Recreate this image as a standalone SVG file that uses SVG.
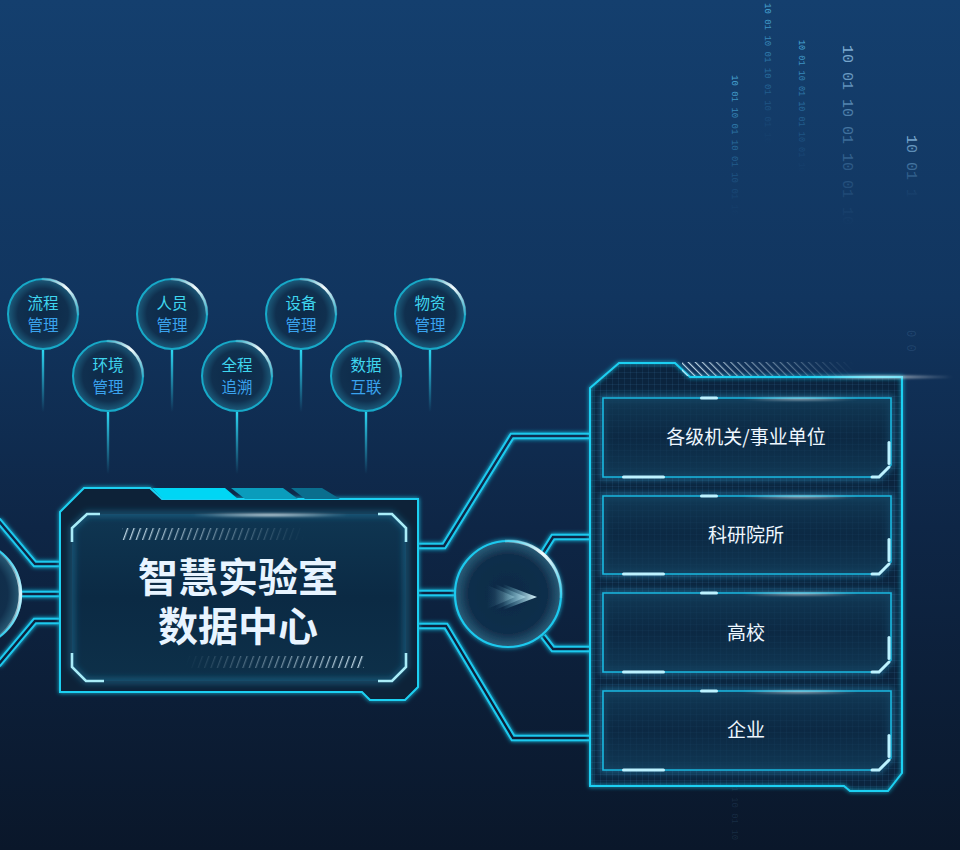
<svg xmlns="http://www.w3.org/2000/svg" width="960" height="850" viewBox="0 0 960 850">
<defs>
<style>
.cjk{font-family:"Noto Sans CJK SC","Noto Sans",sans-serif}
.ball{fill:url(#ballFill);stroke:#17a9c8;stroke-width:2}
.hl{fill:none;stroke:url(#arcG);stroke-width:3;stroke-linecap:round}
.t1{fill:#3fd6ef;font-size:15.5px;text-anchor:middle}
.t2{fill:#3aa3ee;font-size:15.5px;text-anchor:middle}
.stem{fill:url(#stemG)}
.wo{fill:none;stroke:#1dc9ee;stroke-width:6.4;stroke-linejoin:miter}
.wi{fill:none;stroke:url(#bg);stroke-width:2.4;stroke-linejoin:miter}
.card{fill:url(#cardFill);stroke:#1ab8e0;stroke-width:1.6}
.cardglow{fill:none;stroke:#2aa8d8;stroke-opacity:.45;stroke-width:6}
.bar{fill:#bdf2ff}
.ctext{fill:#eef7ff;font-size:19px;text-anchor:middle}
.bin{font-family:"Liberation Mono","DejaVu Sans Mono",monospace}
.brk{fill:none;stroke:#a9ecf8;stroke-width:2.6}
</style>
<linearGradient id="bg" gradientUnits="userSpaceOnUse" x1="0" y1="0" x2="0" y2="850">
<stop offset="0" stop-color="#143f6e"/>
<stop offset="0.35" stop-color="#11355f"/>
<stop offset="0.62" stop-color="#0e2646"/>
<stop offset="1" stop-color="#0a172a"/>
</linearGradient>
<filter id="glow" x="-10%" y="-10%" width="120%" height="120%"><feGaussianBlur stdDeviation="2.2" result="b"/><feMerge><feMergeNode in="b"/><feMergeNode in="SourceGraphic"/></feMerge></filter>
<filter id="soft" x="-20%" y="-50%" width="140%" height="200%"><feGaussianBlur stdDeviation="3"/></filter>
<filter id="soft1" x="-20%" y="-50%" width="140%" height="200%"><feGaussianBlur stdDeviation="1.2"/></filter>
<radialGradient id="ballFill" cx="0.5" cy="0.5" r="0.5">
<stop offset="0" stop-color="#0d2a48"/>
<stop offset="0.72" stop-color="#10304f"/>
<stop offset="1" stop-color="#1c5c7c"/>
</radialGradient>
<radialGradient id="bigFill" cx="0.5" cy="0.5" r="0.5">
<stop offset="0" stop-color="#0f2a44"/>
<stop offset="0.75" stop-color="#112f4c"/>
<stop offset="1" stop-color="#2a5f7a"/>
</radialGradient>
<linearGradient id="arcG" x1="0" y1="0" x2="1" y2="1">
<stop offset="0" stop-color="#ffffff" stop-opacity="0.15"/>
<stop offset="0.45" stop-color="#ffffff" stop-opacity="0.95"/>
<stop offset="1" stop-color="#ffffff" stop-opacity="0.1"/>
</linearGradient>
<linearGradient id="arcV" x1="0" y1="0" x2="0" y2="1">
<stop offset="0" stop-color="#ffffff" stop-opacity="0"/>
<stop offset="0.5" stop-color="#e8faff" stop-opacity="0.9"/>
<stop offset="1" stop-color="#ffffff" stop-opacity="0"/>
</linearGradient>
<linearGradient id="stemG" x1="0" y1="0" x2="0" y2="1">
<stop offset="0" stop-color="#2cd6f2" stop-opacity="1"/>
<stop offset="1" stop-color="#2cd6f2" stop-opacity="0"/>
</linearGradient>
<linearGradient id="innerFill" x1="0" y1="0" x2="0" y2="1">
<stop offset="0" stop-color="#0f3652"/>
<stop offset="0.5" stop-color="#0b2a44"/>
<stop offset="1" stop-color="#0d3049"/>
</linearGradient>
<linearGradient id="cardFill" x1="0" y1="0" x2="0" y2="1">
<stop offset="0" stop-color="#123d5a" stop-opacity="0.85"/>
<stop offset="0.5" stop-color="#0c2c47" stop-opacity="0.6"/>
<stop offset="1" stop-color="#123d5a" stop-opacity="0.85"/>
</linearGradient>
<linearGradient id="arrowG" x1="0" y1="0" x2="1" y2="0">
<stop offset="0" stop-color="#6fd2ea" stop-opacity="0"/>
<stop offset="1" stop-color="#e2f9ff" stop-opacity="1"/>
</linearGradient>
<linearGradient id="binFade" x1="0" y1="0" x2="1" y2="0">
<stop offset="0" stop-color="#8ab8dc" stop-opacity="0.95"/>
<stop offset="0.55" stop-color="#6aa4d0" stop-opacity="0.45"/>
<stop offset="1" stop-color="#5a94c4" stop-opacity="0"/>
</linearGradient>
<linearGradient id="binFadeC" x1="0" y1="0" x2="1" y2="0">
<stop offset="0" stop-color="#4fb4e0" stop-opacity="0.95"/>
<stop offset="0.55" stop-color="#3a98cc" stop-opacity="0.45"/>
<stop offset="1" stop-color="#3a88c0" stop-opacity="0"/>
</linearGradient>
<radialGradient id="whiteGlow" cx="0.5" cy="0.5" r="0.5">
<stop offset="0" stop-color="#ffffff" stop-opacity="0.85"/>
<stop offset="1" stop-color="#ffffff" stop-opacity="0"/>
</radialGradient>
<pattern id="grid" width="6" height="6" patternUnits="userSpaceOnUse">
<path d="M6,0 L0,0 L0,6" fill="none" stroke="#4a8cc4" stroke-opacity="0.22" stroke-width="1"/>
</pattern>
<pattern id="fwd" width="6" height="20" patternUnits="userSpaceOnUse" patternTransform="rotate(20)">
<rect width="1.3" height="20" fill="#d8eefa"/>
</pattern>
<pattern id="back" width="5" height="20" patternUnits="userSpaceOnUse" patternTransform="rotate(-45)">
<rect width="1.2" height="20" fill="#d8eefa"/>
</pattern>
<linearGradient id="fadeR" x1="0" y1="0" x2="1" y2="0">
<stop offset="0" stop-color="#fff" stop-opacity="0.9"/>
<stop offset="1" stop-color="#fff" stop-opacity="0"/>
</linearGradient>
<linearGradient id="fadeL" x1="0" y1="0" x2="1" y2="0">
<stop offset="0" stop-color="#fff" stop-opacity="0"/>
<stop offset="1" stop-color="#fff" stop-opacity="0.9"/>
</linearGradient>
<mask id="mHatchTop"><rect x="120" y="526" width="185" height="16" fill="url(#fadeR)"/></mask>
<mask id="mHatchBot"><rect x="185" y="654" width="180" height="16" fill="url(#fadeL)"/></mask>
<mask id="mHatchPanel"><rect x="680" y="361" width="175" height="16" fill="url(#fadeR)"/></mask>
<path id="w1" d="M-2,520 L35,564 L60,564"/>
<path id="w2" d="M18,594 L60,594"/>
<path id="w3" d="M60,621 L35,621 L-2,665"/>
<path id="w4" d="M418,546 L444,546 L512,436 L590,436"/>
<path id="w5" d="M418,593 L456,593"/>
<path id="w6" d="M418,626 L446,626 L513,738 L590,738"/>
<path id="w7" d="M543,553 L553,537 L590,537"/>
<path id="w8" d="M543,636 L553,649 L590,649"/>
</defs>

<rect width="960" height="850" fill="url(#bg)"/>

<g id="binary" class="bin">
<text transform="translate(843,45) rotate(90)" font-size="15" fill="url(#binFade)">10 01 10 01 10 01 10</text>
<text transform="translate(907,135) rotate(90)" font-size="15" fill="url(#binFade)">10 01 1</text>
<text transform="translate(732,75) rotate(90)" font-size="9" fill="url(#binFadeC)">10 01 10 01 10 01 10 01 10</text>
<text transform="translate(765,3) rotate(90)" font-size="9" fill="url(#binFadeC)">10 01 10 01 10 01 10 01 10</text>
<text transform="translate(799,40) rotate(90)" font-size="8.5" fill="url(#binFadeC)">10 01 10 01 10 01 10 01 10</text>
<text transform="translate(907,330) rotate(90)" font-size="12" fill="#6a9cc8" fill-opacity="0.18">0 0</text>
<text transform="translate(732,770) rotate(90)" font-size="9" fill="#6a9cc8" fill-opacity="0.15">0 01 10 01 10</text>
</g>

<g id="connectors">
<g filter="url(#glow)">
<use href="#w1" class="wo"/><use href="#w2" class="wo"/><use href="#w3" class="wo"/>
<use href="#w4" class="wo"/><use href="#w5" class="wo"/><use href="#w6" class="wo"/>
<use href="#w7" class="wo"/><use href="#w8" class="wo"/>
</g>
<use href="#w1" class="wi"/><use href="#w2" class="wi"/><use href="#w3" class="wi"/>
<use href="#w4" class="wi"/><use href="#w5" class="wi"/><use href="#w6" class="wi"/>
<use href="#w7" class="wi"/><use href="#w8" class="wi"/>
<g id="stems">
<rect class="stem" x="41.8" y="350" width="2.4" height="62"/>
<rect class="stem" x="170.8" y="350" width="2.4" height="62"/>
<rect class="stem" x="299.8" y="350" width="2.4" height="62"/>
<rect class="stem" x="428.8" y="350" width="2.4" height="62"/>
<rect class="stem" x="106.8" y="412" width="2.4" height="62"/>
<rect class="stem" x="235.8" y="412" width="2.4" height="62"/>
<rect class="stem" x="364.8" y="412" width="2.4" height="62"/>
</g>
</g>

<g id="node-liucheng" class="cjk">
<circle class="ball" cx="43" cy="314" r="35"/><path class="hl" d="M43,279 A35,35 0 0 1 78,314"/>
<text class="t1" x="43" y="309">流程</text><text class="t2" x="43" y="331">管理</text>
</g>
<g id="node-renyuan" class="cjk">
<circle class="ball" cx="172" cy="314" r="35"/><path class="hl" d="M172,279 A35,35 0 0 1 207,314"/>
<text class="t1" x="172" y="309">人员</text><text class="t2" x="172" y="331">管理</text>
</g>
<g id="node-shebei" class="cjk">
<circle class="ball" cx="301" cy="314" r="35"/><path class="hl" d="M301,279 A35,35 0 0 1 336,314"/>
<text class="t1" x="301" y="309">设备</text><text class="t2" x="301" y="331">管理</text>
</g>
<g id="node-wuzi" class="cjk">
<circle class="ball" cx="430" cy="314" r="35"/><path class="hl" d="M430,279 A35,35 0 0 1 465,314"/>
<text class="t1" x="430" y="309">物资</text><text class="t2" x="430" y="331">管理</text>
</g>
<g id="node-huanjing" class="cjk">
<circle class="ball" cx="108" cy="376" r="35"/><path class="hl" d="M108,341 A35,35 0 0 1 143,376"/>
<text class="t1" x="108" y="371">环境</text><text class="t2" x="108" y="393">管理</text>
</g>
<g id="node-quancheng" class="cjk">
<circle class="ball" cx="237" cy="376" r="35"/><path class="hl" d="M237,341 A35,35 0 0 1 272,376"/>
<text class="t1" x="237" y="371">全程</text><text class="t2" x="237" y="393">追溯</text>
</g>
<g id="node-shuju" class="cjk">
<circle class="ball" cx="366" cy="376" r="35"/><path class="hl" d="M366,341 A35,35 0 0 1 401,376"/>
<text class="t1" x="366" y="371">数据</text><text class="t2" x="366" y="393">互联</text>
</g>

<g id="left-hub">
<circle cx="-32" cy="594" r="53" fill="url(#bigFill)" stroke="#1dc9ee" stroke-width="2.2"/>
<path d="M-8,547 A53,53 0 0 1 -8,641" fill="none" stroke="url(#arcV)" stroke-width="3.5"/>
</g>

<g id="center-box" class="cjk">
<path d="M60,512 L84,488 L150,488 L162,499 L418,499 L418,687 L405,700 L370,700 L362,692 L60,692 Z" fill="#0b2137" stroke="#1ed0f2" stroke-width="2" filter="url(#glow)"/>
<polygon points="152,488 225,488 238,499 163,499" fill="#00d6f4"/>
<polygon points="231,488 283,488 298,499 245,499" fill="#0a9cbc"/>
<polygon points="291,488 322,488 340,499 305,499" fill="#0a6e8e"/>
<path d="M87,514 L392,514 L406,528 L406,667 L392,681 L86,681 L72,667 L72,528 Z" fill="url(#innerFill)"/>
<path d="M87,514 L392,514 L406,528 L406,667 L392,681 L86,681 L72,667 L72,528 Z" fill="none" stroke="#2a9cc8" stroke-opacity="0.45" stroke-width="5" filter="url(#soft)"/>
<ellipse cx="270" cy="515" rx="80" ry="2.5" fill="url(#whiteGlow)" filter="url(#soft1)"/>
<path class="brk" d="M72,542 L72,528 L87,514 L100,514"/>
<path class="brk" d="M378,514 L392,514 L406,528 L406,542"/>
<path class="brk" d="M72,653 L72,667 L86,681 L104,681"/>
<path class="brk" d="M378,681 L392,681 L406,667 L406,653"/>
<rect x="122" y="528" width="182" height="12" fill="url(#fwd)" mask="url(#mHatchTop)"/>
<rect x="186" y="656" width="178" height="12" fill="url(#fwd)" mask="url(#mHatchBot)"/>
<text x="238" y="592" font-size="40" font-weight="700" fill="#e8f4ff" text-anchor="middle">智慧实验室</text>
<text x="238" y="641" font-size="40" font-weight="700" fill="#e8f4ff" text-anchor="middle">数据中心</text>
</g>

<g id="right-hub">
<circle cx="508" cy="594" r="53" fill="url(#bigFill)" stroke="#1dc9ee" stroke-width="2.2" filter="url(#glow)"/>
<path d="M505,541 A53,53 0 0 1 561,598" fill="none" stroke="url(#arcG)" stroke-width="3.5"/>
<polygon points="487,585 515,597 487,609" fill="url(#arrowG)" opacity="0.35"/>
<polygon points="495,584 526,597 495,610" fill="url(#arrowG)" opacity="0.55"/>
<polygon points="503,584 537,597 503,610" fill="url(#arrowG)"/>
</g>

<g id="right-panel">
<path d="M590,388 L619,363 L675,363 L690,377 L902,377 L902,773 L888,791 L850,791 L844,786 L590,786 Z" fill="#0b243e"/>
<path d="M590,388 L619,363 L675,363 L690,377 L902,377 L902,773 L888,791 L850,791 L844,786 L590,786 Z" fill="url(#grid)"/>
<path d="M590,388 L619,363 L675,363 L690,377 L902,377 L902,773 L888,791 L850,791 L844,786 L590,786 Z" fill="none" stroke="#1ed0f2" stroke-width="2" filter="url(#glow)"/>
<rect x="682" y="362" width="172" height="14" fill="url(#back)" mask="url(#mHatchPanel)"/>
<ellipse cx="880" cy="377" rx="75" ry="2.2" fill="url(#whiteGlow)" filter="url(#soft1)"/>
</g>

<g id="card-1" class="cjk">
<path class="cardglow" d="M603,398 L891,398 L891,465 L879,477 L603,477 Z" filter="url(#soft)"/>
<path class="card" d="M603,398 L891,398 L891,465 L879,477 L603,477 Z"/>
<ellipse cx="800" cy="399" rx="60" ry="2.5" fill="url(#whiteGlow)" filter="url(#soft1)" opacity="0.7"/>
<rect class="bar" x="700" y="396.5" width="18" height="3" rx="1.5"/>
<rect class="bar" x="622" y="475.5" width="43" height="3" rx="1.5"/>
<rect class="bar" x="887.5" y="441" width="3" height="24" rx="1.5"/>
<path d="M872,477 L879,477 L889,467" fill="none" stroke="#bdf2ff" stroke-width="3" stroke-linecap="round"/>
<text class="ctext" x="746" y="444">各级机关/事业单位</text>
</g>
<g id="card-2" class="cjk">
<path class="cardglow" d="M603,496 L891,496 L891,562 L879,574 L603,574 Z" filter="url(#soft)"/>
<path class="card" d="M603,496 L891,496 L891,562 L879,574 L603,574 Z"/>
<ellipse cx="800" cy="497" rx="60" ry="2.5" fill="url(#whiteGlow)" filter="url(#soft1)" opacity="0.7"/>
<rect class="bar" x="700" y="494.5" width="18" height="3" rx="1.5"/>
<rect class="bar" x="622" y="572.5" width="43" height="3" rx="1.5"/>
<rect class="bar" x="887.5" y="538" width="3" height="24" rx="1.5"/>
<path d="M872,574 L879,574 L889,564" fill="none" stroke="#bdf2ff" stroke-width="3" stroke-linecap="round"/>
<text class="ctext" x="746" y="542">科研院所</text>
</g>
<g id="card-3" class="cjk">
<path class="cardglow" d="M603,593 L891,593 L891,660 L879,672 L603,672 Z" filter="url(#soft)"/>
<path class="card" d="M603,593 L891,593 L891,660 L879,672 L603,672 Z"/>
<ellipse cx="800" cy="594" rx="60" ry="2.5" fill="url(#whiteGlow)" filter="url(#soft1)" opacity="0.7"/>
<rect class="bar" x="700" y="591.5" width="18" height="3" rx="1.5"/>
<rect class="bar" x="622" y="670.5" width="43" height="3" rx="1.5"/>
<rect class="bar" x="887.5" y="636" width="3" height="24" rx="1.5"/>
<path d="M872,672 L879,672 L889,662" fill="none" stroke="#bdf2ff" stroke-width="3" stroke-linecap="round"/>
<text class="ctext" x="746" y="640">高校</text>
</g>
<g id="card-4" class="cjk">
<path class="cardglow" d="M603,691 L891,691 L891,758 L879,770 L603,770 Z" filter="url(#soft)"/>
<path class="card" d="M603,691 L891,691 L891,758 L879,770 L603,770 Z"/>
<ellipse cx="800" cy="692" rx="60" ry="2.5" fill="url(#whiteGlow)" filter="url(#soft1)" opacity="0.7"/>
<rect class="bar" x="700" y="689.5" width="18" height="3" rx="1.5"/>
<rect class="bar" x="622" y="768.5" width="43" height="3" rx="1.5"/>
<rect class="bar" x="887.5" y="734" width="3" height="24" rx="1.5"/>
<path d="M872,770 L879,770 L889,760" fill="none" stroke="#bdf2ff" stroke-width="3" stroke-linecap="round"/>
<text class="ctext" x="746" y="737">企业</text>
</g>
</svg>
